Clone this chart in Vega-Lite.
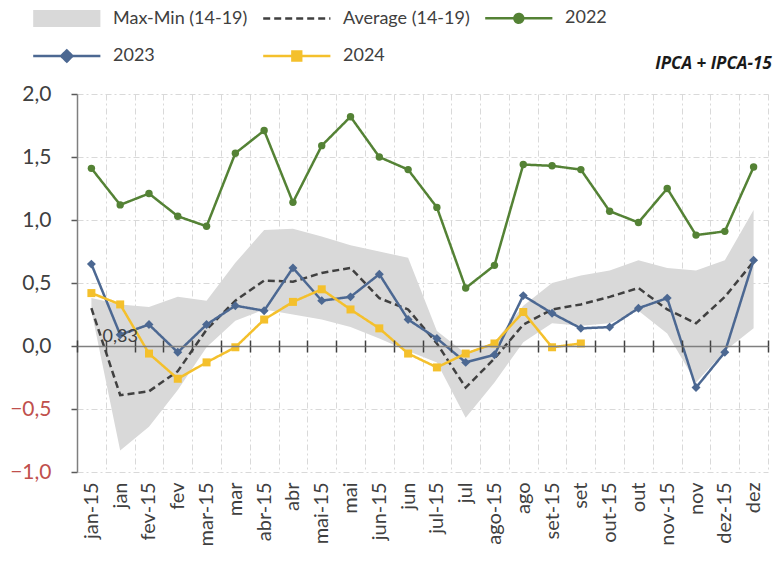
{
  "$schema": "https://vega.github.io/schema/vega-lite/v6.json",
  "width": 691,
  "height": 378,
  "autosize": "none",
  "padding": {"left": 77, "top": 94, "right": 6, "bottom": 94},
  "background": "white",
  "config": {"view": {"stroke": null}, "font": "Lato"},
  "title": {"text": "IPCA + IPCA-15", "anchor": "end", "fontSize": 17, "font": "Open Sans", "fontStyle": "italic", "fontWeight": "bold", "color": "#1a1a1a", "offset": -64, "dx": 3},
  "datasets": {
    "band": [
      {"m": "jan-15", "s": "Max-Min (14-19)", "lo": 0.28, "hi": 0.38},
      {"m": "jan", "s": "Max-Min (14-19)", "lo": -0.83, "hi": 0.33},
      {"m": "fev-15", "s": "Max-Min (14-19)", "lo": -0.64, "hi": 0.31},
      {"m": "fev", "s": "Max-Min (14-19)", "lo": -0.35, "hi": 0.39},
      {"m": "mar-15", "s": "Max-Min (14-19)", "lo": -0.01, "hi": 0.36},
      {"m": "mar", "s": "Max-Min (14-19)", "lo": 0.20, "hi": 0.66},
      {"m": "abr-15", "s": "Max-Min (14-19)", "lo": 0.29, "hi": 0.92},
      {"m": "abr", "s": "Max-Min (14-19)", "lo": 0.25, "hi": 0.93},
      {"m": "mai-15", "s": "Max-Min (14-19)", "lo": 0.21, "hi": 0.87},
      {"m": "mai", "s": "Max-Min (14-19)", "lo": 0.15, "hi": 0.80},
      {"m": "jun-15", "s": "Max-Min (14-19)", "lo": 0.06, "hi": 0.75},
      {"m": "jun", "s": "Max-Min (14-19)", "lo": -0.04, "hi": 0.70},
      {"m": "jul-15", "s": "Max-Min (14-19)", "lo": -0.13, "hi": 0.12},
      {"m": "jul", "s": "Max-Min (14-19)", "lo": -0.57, "hi": -0.06},
      {"m": "ago-15", "s": "Max-Min (14-19)", "lo": -0.29, "hi": 0.03},
      {"m": "ago", "s": "Max-Min (14-19)", "lo": 0.03, "hi": 0.32},
      {"m": "set-15", "s": "Max-Min (14-19)", "lo": 0.18, "hi": 0.50},
      {"m": "set", "s": "Max-Min (14-19)", "lo": 0.16, "hi": 0.56},
      {"m": "out-15", "s": "Max-Min (14-19)", "lo": 0.18, "hi": 0.60},
      {"m": "out", "s": "Max-Min (14-19)", "lo": 0.28, "hi": 0.68},
      {"m": "nov-15", "s": "Max-Min (14-19)", "lo": 0.10, "hi": 0.62},
      {"m": "nov", "s": "Max-Min (14-19)", "lo": -0.29, "hi": 0.60},
      {"m": "dez-15", "s": "Max-Min (14-19)", "lo": -0.04, "hi": 0.68},
      {"m": "dez", "s": "Max-Min (14-19)", "lo": 0.14, "hi": 1.08}
    ],
    "lines": [
      {"m": "jan-15", "s": "Average (14-19)", "v": 0.30},
      {"m": "jan", "s": "Average (14-19)", "v": -0.39},
      {"m": "fev-15", "s": "Average (14-19)", "v": -0.36},
      {"m": "fev", "s": "Average (14-19)", "v": -0.20},
      {"m": "mar-15", "s": "Average (14-19)", "v": 0.13},
      {"m": "mar", "s": "Average (14-19)", "v": 0.36},
      {"m": "abr-15", "s": "Average (14-19)", "v": 0.52},
      {"m": "abr", "s": "Average (14-19)", "v": 0.51},
      {"m": "mai-15", "s": "Average (14-19)", "v": 0.58},
      {"m": "mai", "s": "Average (14-19)", "v": 0.62},
      {"m": "jun-15", "s": "Average (14-19)", "v": 0.38},
      {"m": "jun", "s": "Average (14-19)", "v": 0.29},
      {"m": "jul-15", "s": "Average (14-19)", "v": 0.02},
      {"m": "jul", "s": "Average (14-19)", "v": -0.33},
      {"m": "ago-15", "s": "Average (14-19)", "v": -0.10},
      {"m": "ago", "s": "Average (14-19)", "v": 0.17},
      {"m": "set-15", "s": "Average (14-19)", "v": 0.29},
      {"m": "set", "s": "Average (14-19)", "v": 0.33},
      {"m": "out-15", "s": "Average (14-19)", "v": 0.39},
      {"m": "out", "s": "Average (14-19)", "v": 0.46},
      {"m": "nov-15", "s": "Average (14-19)", "v": 0.29},
      {"m": "nov", "s": "Average (14-19)", "v": 0.18},
      {"m": "dez-15", "s": "Average (14-19)", "v": 0.39},
      {"m": "dez", "s": "Average (14-19)", "v": 0.67},
      {"m": "jan-15", "s": "2022", "v": 1.41},
      {"m": "jan", "s": "2022", "v": 1.12},
      {"m": "fev-15", "s": "2022", "v": 1.21},
      {"m": "fev", "s": "2022", "v": 1.03},
      {"m": "mar-15", "s": "2022", "v": 0.95},
      {"m": "mar", "s": "2022", "v": 1.53},
      {"m": "abr-15", "s": "2022", "v": 1.71},
      {"m": "abr", "s": "2022", "v": 1.14},
      {"m": "mai-15", "s": "2022", "v": 1.59},
      {"m": "mai", "s": "2022", "v": 1.82},
      {"m": "jun-15", "s": "2022", "v": 1.50},
      {"m": "jun", "s": "2022", "v": 1.40},
      {"m": "jul-15", "s": "2022", "v": 1.10},
      {"m": "jul", "s": "2022", "v": 0.46},
      {"m": "ago-15", "s": "2022", "v": 0.64},
      {"m": "ago", "s": "2022", "v": 1.44},
      {"m": "set-15", "s": "2022", "v": 1.43},
      {"m": "set", "s": "2022", "v": 1.40},
      {"m": "out-15", "s": "2022", "v": 1.07},
      {"m": "out", "s": "2022", "v": 0.98},
      {"m": "nov-15", "s": "2022", "v": 1.25},
      {"m": "nov", "s": "2022", "v": 0.88},
      {"m": "dez-15", "s": "2022", "v": 0.91},
      {"m": "dez", "s": "2022", "v": 1.42},
      {"m": "jan-15", "s": "2023", "v": 0.65},
      {"m": "jan", "s": "2023", "v": 0.09},
      {"m": "fev-15", "s": "2023", "v": 0.17},
      {"m": "fev", "s": "2023", "v": -0.05},
      {"m": "mar-15", "s": "2023", "v": 0.17},
      {"m": "mar", "s": "2023", "v": 0.32},
      {"m": "abr-15", "s": "2023", "v": 0.28},
      {"m": "abr", "s": "2023", "v": 0.62},
      {"m": "mai-15", "s": "2023", "v": 0.36},
      {"m": "mai", "s": "2023", "v": 0.39},
      {"m": "jun-15", "s": "2023", "v": 0.57},
      {"m": "jun", "s": "2023", "v": 0.21},
      {"m": "jul-15", "s": "2023", "v": 0.06},
      {"m": "jul", "s": "2023", "v": -0.13},
      {"m": "ago-15", "s": "2023", "v": -0.07},
      {"m": "ago", "s": "2023", "v": 0.40},
      {"m": "set-15", "s": "2023", "v": 0.26},
      {"m": "set", "s": "2023", "v": 0.14},
      {"m": "out-15", "s": "2023", "v": 0.15},
      {"m": "out", "s": "2023", "v": 0.30},
      {"m": "nov-15", "s": "2023", "v": 0.38},
      {"m": "nov", "s": "2023", "v": -0.33},
      {"m": "dez-15", "s": "2023", "v": -0.05},
      {"m": "dez", "s": "2023", "v": 0.68},
      {"m": "jan-15", "s": "2024", "v": 0.42},
      {"m": "jan", "s": "2024", "v": 0.33},
      {"m": "fev-15", "s": "2024", "v": -0.06},
      {"m": "fev", "s": "2024", "v": -0.26},
      {"m": "mar-15", "s": "2024", "v": -0.13},
      {"m": "mar", "s": "2024", "v": -0.01},
      {"m": "abr-15", "s": "2024", "v": 0.21},
      {"m": "abr", "s": "2024", "v": 0.35},
      {"m": "mai-15", "s": "2024", "v": 0.45},
      {"m": "mai", "s": "2024", "v": 0.29},
      {"m": "jun-15", "s": "2024", "v": 0.14},
      {"m": "jun", "s": "2024", "v": -0.06},
      {"m": "jul-15", "s": "2024", "v": -0.17},
      {"m": "jul", "s": "2024", "v": -0.06},
      {"m": "ago-15", "s": "2024", "v": 0.02},
      {"m": "ago", "s": "2024", "v": 0.27},
      {"m": "set-15", "s": "2024", "v": -0.01},
      {"m": "set", "s": "2024", "v": 0.02}
    ],
    "notes": [
      {"m": "jan", "v": 0.07, "label": "0,33"}
    ]
  },
  "resolve": {"axis": {"x": "independent"}},
  "layer": [
    {
      "data": {"name": "band"},
      "mark": {"type": "area", "opacity": 1},
      "encoding": {
        "x": {"field": "m", "type": "nominal", "sort": ["jan-15","jan","fev-15","fev","mar-15","mar","abr-15","abr","mai-15","mai","jun-15","jun","jul-15","jul","ago-15","ago","set-15","set","out-15","out","nov-15","nov","dez-15","dez"],
          "scale": {"type": "band", "paddingInner": 0, "paddingOuter": 0},
          "axis": {"orient": "bottom", "title": null, "labelAngle": -90, "labelAlign": "right", "labelBaseline": "middle", "labelPadding": 10, "labelFontSize": 20, "labelFont": "Lato", "labelColor": "#404040", "ticks": false, "domain": false, "grid": true, "tickBand": "extent", "gridColor": "#d9d9d9", "gridDash": [6, 3, 2, 3], "gridWidth": 1}},
        "y": {"field": "hi", "type": "quantitative", "title": null,
          "scale": {"domain": [-1, 2], "nice": false, "zero": false},
          "axis": {"orient": "left", "title": null, "values": [-1, -0.5, 0, 0.5, 1, 1.5, 2], "labelExpr": "replace(format(datum.value, '.1f'), '.', ',')", "labelFontSize": 21, "labelFont": "Lato", "labelColor": {"condition": {"test": "datum.value < 0", "value": "#c0504d"}, "value": "#404040"}, "labelPadding": 20, "tickSize": 6, "tickColor": "#595959", "tickWidth": 1.5, "domainColor": "#7f7f7f", "domainWidth": 1.5, "grid": true, "gridColor": "#d9d9d9", "gridDash": [6, 3, 2, 3], "gridWidth": 1}},
        "y2": {"field": "lo"},
        "color": {"field": "s", "type": "nominal"}
      }
    },
    {
      "data": {"name": "lines"},
      "mark": {"type": "line", "strokeWidth": 2.5},
      "encoding": {
        "x": {"field": "m", "type": "nominal", "sort": ["jan-15","jan","fev-15","fev","mar-15","mar","abr-15","abr","mai-15","mai","jun-15","jun","jul-15","jul","ago-15","ago","set-15","set","out-15","out","nov-15","nov","dez-15","dez"],
          "axis": {"orient": "bottom", "offset": -126, "labels": false, "title": null, "domain": true, "domainColor": "#7f7f7f", "domainWidth": 1.5, "ticks": true, "tickSize": 6, "tickColor": "#404040", "tickWidth": 1.5, "tickBand": "extent", "grid": false, "zindex": 1}},
        "y": {"field": "v", "type": "quantitative", "title": null},
        "color": {"field": "s", "type": "nominal",
          "scale": {"domain": ["Max-Min (14-19)", "Average (14-19)", "2022", "2023", "2024"], "range": ["#d9d9d9", "#404040", "#548235", "#4c6892", "#f4c02c"]},
          "legend": {"title": null, "orient": "none", "direction": "horizontal", "legendX": -44, "legendY": -85, "columns": 3, "columnPadding": 10, "rowPadding": 17, "padding": 0,
            "symbolSize": 256, "symbolStrokeWidth": 2, "labelOffset": 62, "labelFontSize": 18, "labelFont": "Lato", "labelColor": "#404040", "labelLimit": 300,
            "encode": {"symbols": {"update": {
              "shape": {"signal": "datum.value === 'Max-Min (14-19)' ? 'M-1.1,-1.05H7.3V1.05H-1.1Z' : datum.value === 'Average (14-19)' ? 'M-1.1,0H7.3' : datum.value === '2022' ? 'M-1.1,0H7.3M3.65,0A0.55,0.55,0,1,1,2.55,0A0.55,0.55,0,1,1,3.65,0Z' : datum.value === '2023' ? 'M-1.1,0H7.3M3.1,-0.7L3.8,0L3.1,0.7L2.4,0Z' : 'M-1.1,0H7.3M2.55,-0.55H3.65V0.55H2.55Z'"},
              "size": {"value": 256},
              "fill": {"scale": "color", "field": "value"},
              "stroke": {"scale": "color", "field": "value"},
              "opacity": {"value": 1},
              "fillOpacity": {"value": 1},
              "strokeOpacity": {"value": 1},
              "strokeWidth": {"signal": "datum.value === 'Max-Min (14-19)' ? 0 : 2.5"},
              "strokeDash": {"signal": "datum.value === 'Average (14-19)' ? [6, 3] : datum.value === '2024' ? [5, 3] : [1, 0]"}
            }}}
          }},
        "strokeDash": {"field": "s", "type": "nominal", "scale": {"domain": ["Max-Min (14-19)", "Average (14-19)", "2022", "2023", "2024"], "range": [[1, 0], [7, 4], [1, 0], [1, 0], [1, 0]]}, "legend": null}
      }
    },
    {
      "data": {"name": "lines"},
      "transform": [{"filter": "datum.s === '2022'"}],
      "mark": {"type": "point", "filled": true, "opacity": 1, "size": 55, "shape": "circle", "color": "#548235"},
      "encoding": {
        "x": {"field": "m", "type": "nominal", "sort": ["jan-15","jan","fev-15","fev","mar-15","mar","abr-15","abr","mai-15","mai","jun-15","jun","jul-15","jul","ago-15","ago","set-15","set","out-15","out","nov-15","nov","dez-15","dez"],
          "axis": {"orient": "bottom", "offset": -126, "labels": false, "title": null, "domain": false, "ticks": true, "tickSize": -6, "tickColor": "#404040", "tickWidth": 1.5, "tickBand": "extent", "grid": false, "zindex": 1}},
        "y": {"field": "v", "type": "quantitative", "title": null}
      }
    },
    {
      "data": {"name": "lines"},
      "transform": [{"filter": "datum.s === '2023'"}],
      "mark": {"type": "point", "filled": true, "opacity": 1, "size": 80, "shape": "diamond", "color": "#4c6892"},
      "encoding": {
        "x": {"field": "m", "type": "nominal", "sort": ["jan-15","jan","fev-15","fev","mar-15","mar","abr-15","abr","mai-15","mai","jun-15","jun","jul-15","jul","ago-15","ago","set-15","set","out-15","out","nov-15","nov","dez-15","dez"], "axis": null},
        "y": {"field": "v", "type": "quantitative", "title": null}
      }
    },
    {
      "data": {"name": "lines"},
      "transform": [{"filter": "datum.s === '2024'"}],
      "mark": {"type": "point", "filled": true, "opacity": 1, "size": 64, "shape": "square", "color": "#f4c02c"},
      "encoding": {
        "x": {"field": "m", "type": "nominal", "sort": ["jan-15","jan","fev-15","fev","mar-15","mar","abr-15","abr","mai-15","mai","jun-15","jun","jul-15","jul","ago-15","ago","set-15","set","out-15","out","nov-15","nov","dez-15","dez"], "axis": null},
        "y": {"field": "v", "type": "quantitative", "title": null}
      }
    },
    {
      "data": {"name": "notes"},
      "mark": {"type": "text", "fontSize": 18, "font": "Lato", "color": "#404040", "align": "center", "baseline": "middle"},
      "encoding": {
        "x": {"field": "m", "type": "nominal", "sort": ["jan-15","jan","fev-15","fev","mar-15","mar","abr-15","abr","mai-15","mai","jun-15","jun","jul-15","jul","ago-15","ago","set-15","set","out-15","out","nov-15","nov","dez-15","dez"], "axis": null},
        "y": {"field": "v", "type": "quantitative", "title": null},
        "text": {"field": "label"}
      }
    }
  ]
}
